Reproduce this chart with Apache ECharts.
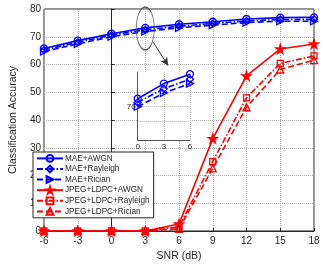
<!DOCTYPE html>
<html>
<head>
<meta charset="utf-8">
<script src="https://cdn.jsdelivr.net/npm/echarts@6/dist/echarts.min.js"></script>
<style>html,body{margin:0;padding:0;background:#fff}#c{width:324px;height:267px}</style>
</head>
<body>
<div id="c"></div>
<script>
const snr = [-6, -3, 0, 3, 6, 9, 12, 15, 18];
const maeAwgn     = [65.8, 68.6, 71.1, 73.2, 74.5, 75.4, 76.4, 76.9, 77.0];
const maeRayleigh = [65.2, 68.0, 70.6, 72.5, 73.8, 74.8, 75.7, 76.2, 76.3];
const maeRician   = [64.7, 67.4, 70.0, 71.9, 73.2, 74.2, 75.1, 75.6, 75.6];
const jpegAwgn     = [0, 0, 0, 0, 2.5, 33.3, 55.9, 65.6, 67.4];
const jpegRayleigh = [0, 0, 0, 0, 1.5, 25.0, 48.0, 60.4, 63.1];
const jpegRician   = [0, 0, 0, 0, 0.8, 22.6, 44.6, 58.2, 61.6];
const insetSnr = [0, 3, 6];
const names = ['MAE+AWGN', 'MAE+Rayleigh', 'MAE+Rician', 'JPEG+LDPC+AWGN', 'JPEG+LDPC+Rayleigh', 'JPEG+LDPC+Rician'];

const FONT = 'Liberation Sans, Arial, sans-serif';
const BLUE = '#0000ff', RED = '#ff0000';
const STAR = 'path://M50,0 L61,35 L98,35 L68,57 L79,91 L50,70 L21,91 L32,57 L2,35 L39,35 Z';
const RTRI = 'path://M0,0 L10,5 L0,10 Z';
const DASHDOT = [6, 2, 1.5, 2];
const DASH = [6, 3];

function pairs(xs, ys) { return xs.map((x, i) => [x, ys[i]]); }
function insetPairs(ys) { return insetSnr.map(x => [x, ys[snr.indexOf(x)]]); }

function mk(name, data, color, symbol, size, dash, fill, extra, gi) {
  return Object.assign({
    name: name, type: 'line', data: data,
    xAxisIndex: gi || 0, yAxisIndex: gi || 0,
    symbol: symbol, symbolSize: size, showAllSymbol: true,
    z: gi ? 8 : 2,
    lineStyle: { color: color, width: 1.6, type: dash },
    itemStyle: { color: fill, borderColor: color, borderWidth: 1.3 },
    emphasis: { disabled: true }
  }, extra || {});
}

const T = 'rgba(255,255,255,0)';
const series = [
  mk(names[0], pairs(snr, maeAwgn), BLUE, 'circle', 7, 'solid', T, {
    markPoint: {
      silent: true, symbol: 'circle', symbolSize: [18, 43],
      itemStyle: { color: 'rgba(0,0,0,0)', borderColor: '#555', borderWidth: 1 },
      label: { show: false },
      data: [{ coord: [3, 73.0] }]
    },
    markLine: {
      silent: true, symbol: ['none', 'arrow'], symbolSize: [6, 8],
      lineStyle: { color: '#333', width: 1, type: 'solid' },
      label: { show: false },
      data: [[{ coord: [3.68, 68.2] }, { coord: [5.03, 59.6] }]]
    }
  }),
  mk(names[1], pairs(snr, maeRayleigh), BLUE, 'diamond', 7, DASHDOT, T),
  mk(names[2], pairs(snr, maeRician), BLUE, RTRI, 7, DASH, T),
  mk(names[3], pairs(snr, jpegAwgn), RED, STAR, 9, 'solid', RED),
  mk(names[4], pairs(snr, jpegRayleigh), RED, 'rect', 6, DASHDOT, T),
  mk(names[5], pairs(snr, jpegRician), RED, 'triangle', 7, DASH, T),
  mk('inset1', insetPairs(maeAwgn), BLUE, 'circle', 7, 'solid', T, {
    markLine: {
      silent: true, symbol: 'none', label: { show: false },
      lineStyle: { color: '#aaa', width: 1, type: 'dotted' },
      data: [{ yAxis: 68 }, { yAxis: 70 }, { yAxis: 72 }]
    }
  }, 1),
  mk('inset2', insetPairs(maeRayleigh), BLUE, 'diamond', 7, DASHDOT, T, null, 1),
  mk('inset3', insetPairs(maeRician), BLUE, RTRI, 7, DASH, T, null, 1)
];

const axisTxt = { color: '#262626', fontFamily: FONT, fontSize: 10 };
const option = {
  animation: false,
  backgroundColor: '#fff',
  grid: [
    { left: 29, right: 10, top: 9, bottom: 34, show: true, borderColor: '#262626', borderWidth: 1, backgroundColor: '#fff' },
    { left: 137.7, top: 72, width: 52.3, height: 68, show: true, borderWidth: 0, backgroundColor: '#fff', z: 5 }
  ],
  xAxis: [
    {
      type: 'value', gridIndex: 0, min: -6, max: 18, interval: 3,
      name: 'SNR (dB)', nameLocation: 'middle', nameGap: 20,
      nameTextStyle: { color: '#262626', fontFamily: FONT, fontSize: 10.5 },
      axisLine: { lineStyle: { color: '#262626' } },
      axisTick: { inside: true, length: 3, lineStyle: { color: '#262626' } },
      axisLabel: Object.assign({ margin: 5 }, axisTxt),
      splitLine: { lineStyle: { color: '#aaa', type: 'dotted' } }
    },
    {
      type: 'value', gridIndex: 1, min: 0, max: 6, interval: 3, z: 6,
      axisLine: { lineStyle: { color: '#555' } },
      axisTick: { show: false },
      axisLabel: { color: '#262626', fontFamily: FONT, fontSize: 8, margin: 3 },
      splitLine: { lineStyle: { color: '#aaa', type: 'dotted' } }
    }
  ],
  yAxis: [
    {
      type: 'value', gridIndex: 0, min: 0, max: 80, interval: 10,
      name: 'Classification Accuracy', nameLocation: 'middle', nameGap: 18,
      nameTextStyle: { color: '#262626', fontFamily: FONT, fontSize: 10.5 },
      axisLine: { lineStyle: { color: '#262626' } },
      axisTick: { inside: true, length: 3, lineStyle: { color: '#262626' } },
      axisLabel: Object.assign({ margin: 3 }, axisTxt),
      splitLine: { lineStyle: { color: '#aaa', type: 'dotted' } }
    },
    {
      type: 'value', gridIndex: 1, min: 65.4, max: 74.8, z: 6,
      axisLine: { show: true, lineStyle: { color: '#555' } },
      axisTick: { show: false },
      axisLabel: { color: '#262626', fontFamily: FONT, fontSize: 8, margin: 2, customValues: [70] },
      splitLine: { show: false }
    }
  ],
  legend: {
    data: names, orient: 'vertical', left: 33, top: 152,
    padding: [2, 4, 2, 3], itemGap: 1.8, itemWidth: 26, itemHeight: 8.5,
    backgroundColor: '#fff', borderColor: '#262626', borderWidth: 1,
    textStyle: { color: '#262626', fontFamily: FONT, fontSize: 8.2, padding: [0, 0, 0, -3] },
    selectedMode: false, z: 10
  },
  series: series
};
const chart = echarts.init(document.getElementById('c'), null, { renderer: 'canvas' });
chart.setOption(option);
</script>
</body>
</html>
